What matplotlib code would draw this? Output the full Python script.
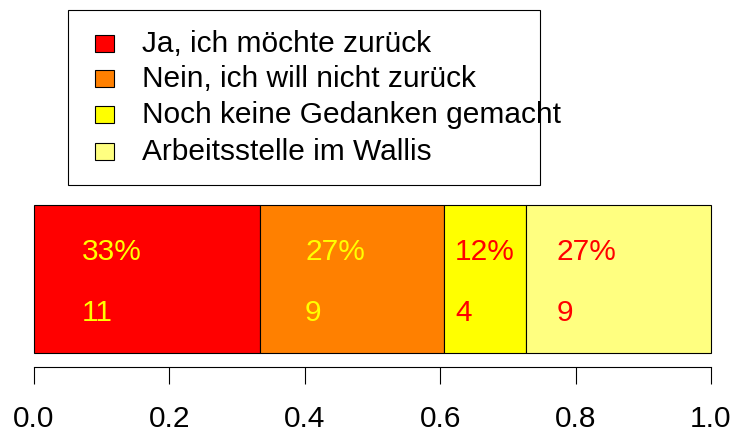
import matplotlib
matplotlib.use("Agg")
import matplotlib.pyplot as plt
from matplotlib.patches import Rectangle

plt.rcParams['font.family'] = ['Liberation Sans', 'DejaVu Sans']

categories = ["Ja, ich möchte zurück", "Nein, ich will nicht zurück",
              "Noch keine Gedanken gemacht", "Arbeitsstelle im Wallis"]
counts = [11, 9, 4, 9]
colors = ["#FF0000", "#FF8000", "#FFFF00", "#FFFF80"]
label_colors = ["#FFFF00", "#FFFF00", "#FF0000", "#FF0000"]
tick_values = [0.0, 0.2, 0.4, 0.6, 0.8, 1.0]

total = sum(counts)
shares = [c / total for c in counts]
lefts = [sum(shares[:i]) for i in range(len(shares))]

W, H = 734, 437
fig = plt.figure(figsize=(W / 100, H / 100), dpi=100)
FS = 21.5

# main bar axes (pixel-based placement)
x0, x1 = 34, 711
y_top, y_bot = 205, 353
ax = fig.add_axes([x0 / W, 1 - y_bot / H, (x1 - x0) / W, (y_bot - y_top) / H])
bars = ax.barh([0.5], shares, left=lefts, height=1.0, color=colors,
               edgecolor="black", linewidth=0.8)
for b in bars:
    b.set_clip_on(False)
ax.set_xlim(0, 1)
ax.set_ylim(0, 1)

# label offsets (fraction of axis) from segment's left edge
offsets = [0.071, 0.067, 0.016, 0.044]
for i in range(len(counts)):
    xt = lefts[i] + offsets[i]
    ax.text(xt, 0.68, f"{round(shares[i] * 100)}%", color=label_colors[i],
            fontsize=FS, ha="left", va="center")
    ax.text(xt, 0.27, f"{counts[i]}", color=label_colors[i],
            fontsize=FS, ha="left", va="center")

for s in ["top", "right", "left"]:
    ax.spines[s].set_visible(False)
ax.spines["bottom"].set_position(("outward", 14 * 0.72))
ax.spines["bottom"].set_linewidth(0.8)
ax.set_yticks([])
ax.set_xticks(tick_values)
ax.set_xticklabels([f"{v:.1f}" for v in tick_values])
ax.tick_params(axis="x", direction="out", length=17 * 0.72, width=0.8,
               pad=21 * 0.72, labelsize=FS)

# legend drawn in pixel coordinates on an overlay axes
lax = fig.add_axes([0, 0, 1, 1])
lax.set_xlim(0, W)
lax.set_ylim(H, 0)
lax.axis("off")
lax.add_patch(Rectangle((68, 10), 472, 175, fill=False, edgecolor="black",
                        linewidth=0.8))
row_y = [44, 79, 115, 152]
for i, lab in enumerate(categories):
    lax.add_patch(Rectangle((95, row_y[i] - 9), 19, 17, facecolor=colors[i],
                            edgecolor="black", linewidth=0.8))
    lax.text(142, row_y[i], lab, fontsize=FS, ha="left", va="center")

fig.savefig("out.png", dpi=100)
